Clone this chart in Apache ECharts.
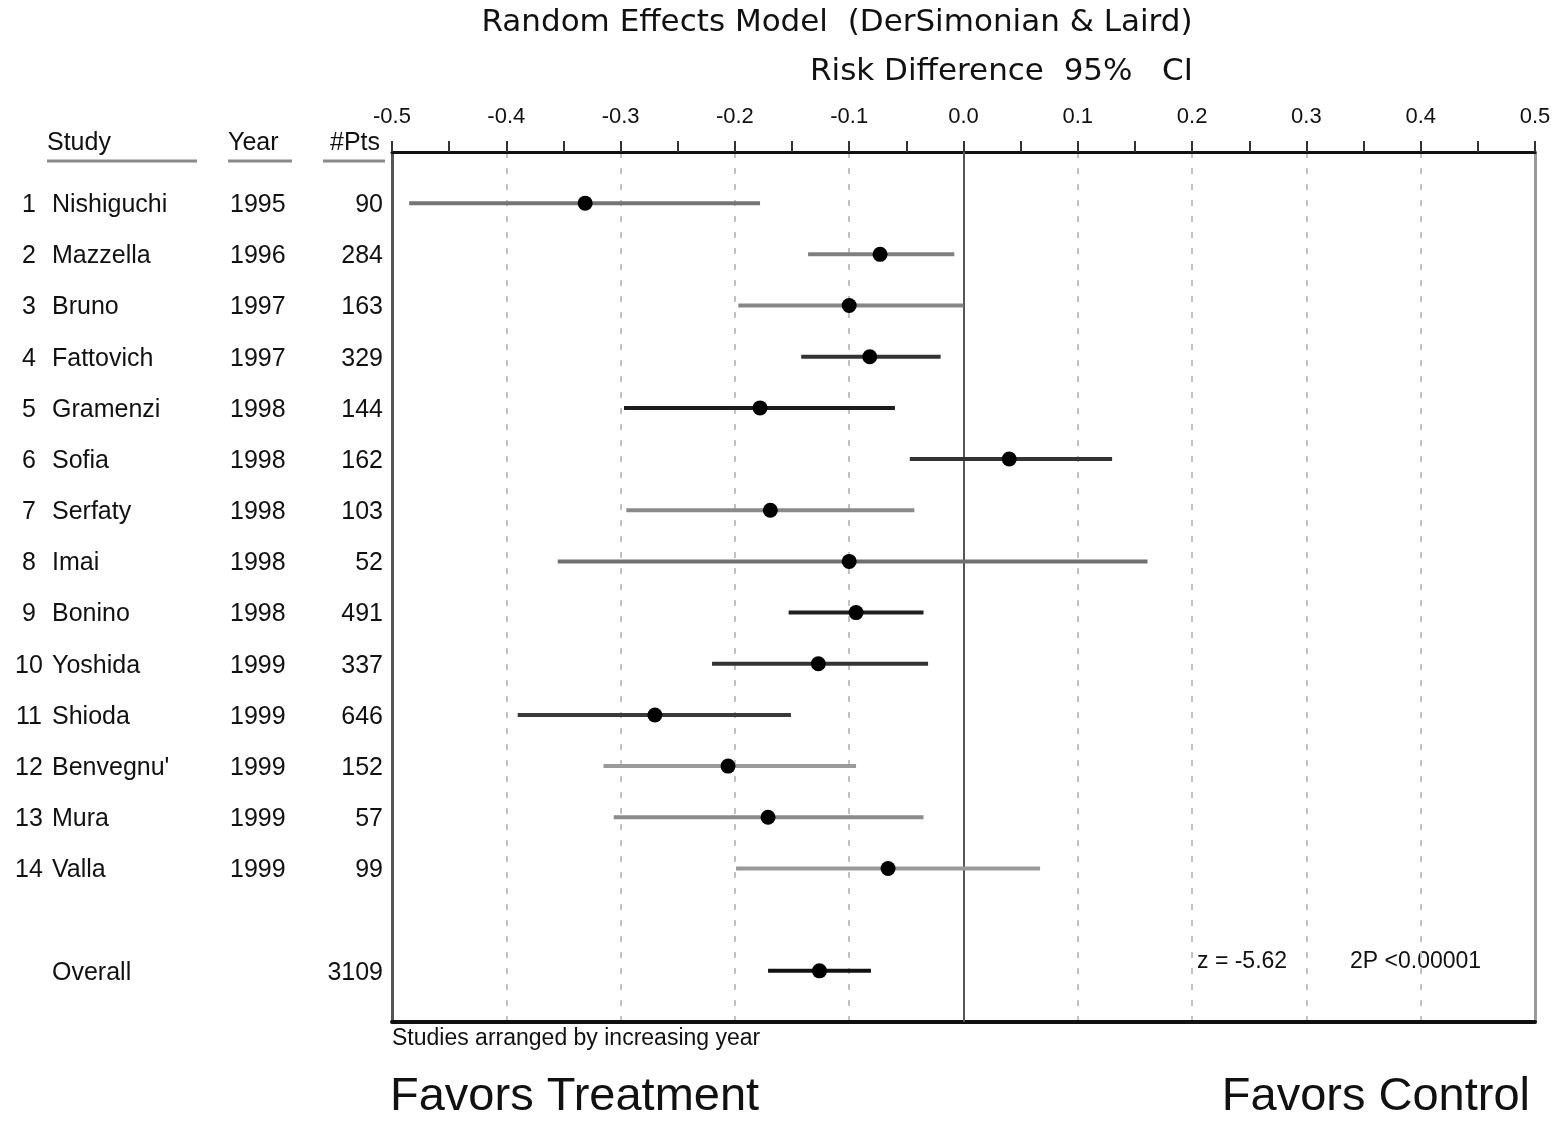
<!DOCTYPE html>
<html>
<head>
<meta charset="utf-8">
<script src="https://cdn.jsdelivr.net/npm/echarts@6/dist/echarts.min.js"></script>
<style>
  html, body { margin: 0; padding: 0; background: #ffffff; }
  #chart { width: 1557px; height: 1122px; }
</style>
</head>
<body>
<div id="chart"></div>
<script>
// Meta-analysis of individual studies: risk difference with 95% CI
const studies  = ['Nishiguchi', 'Mazzella', 'Bruno', 'Fattovich', 'Gramenzi', 'Sofia', 'Serfaty',
                  'Imai', 'Bonino', 'Yoshida', 'Shioda', "Benvegnu'", 'Mura', 'Valla'];
const years    = [1995, 1996, 1997, 1997, 1998, 1998, 1998, 1998, 1998, 1999, 1999, 1999, 1999, 1999];
const patients = [90, 284, 163, 329, 144, 162, 103, 52, 491, 337, 646, 152, 57, 99];
const riskDiff = [-0.331, -0.073, -0.100, -0.082, -0.178, 0.040, -0.169, -0.100, -0.094, -0.127, -0.270, -0.206, -0.171, -0.066];
const ciLow    = [-0.485, -0.136, -0.197, -0.142, -0.297, -0.047, -0.295, -0.355, -0.153, -0.220, -0.390, -0.315, -0.306, -0.199];
const ciHigh   = [-0.178, -0.008,  0.000, -0.020, -0.060,  0.130, -0.043,  0.161, -0.035, -0.031, -0.151, -0.094, -0.035,  0.067];

const overallLabel = 'Overall';
const overallPts   = 3109;
const overallRD    = -0.126;
const overallLow   = -0.171;
const overallHigh  = -0.081;

const xTickLabels = ['-0.5', '-0.4', '-0.3', '-0.2', '-0.1', '0.0', '0.1', '0.2', '0.3', '0.4', '0.5'];

// Row positions on the vertical (inverted) axis
const studyRows = studies.map((_, i) => i + 1);
const overallRow = 16;

// Stroke tones of the CI bars (as printed)
const ciShade = ['#757575', '#7f7f7f', '#868686', '#333333', '#1c1c1c', '#333333', '#8a8a8a',
                 '#707070', '#1f1f1f', '#333333', '#3a3a3a', '#9a9a9a', '#8c8c8c', '#999999', '#111111'];

const FONT = '"Liberation Sans", Arial, sans-serif';
const TITLE_FONT = '"DejaVu Sans", "Liberation Sans", sans-serif';

const ciData = studyRows.map((r, i) => [ciLow[i], ciHigh[i], r]);
ciData.push([overallLow, overallHigh, overallRow]);

const pointData = studyRows.map((r, i) => [riskDiff[i], r]);
pointData.push([overallRD, overallRow]);

const tableData = studyRows.map(r => [-0.5, r]);
tableData.push([-0.5, overallRow]);

const chart = echarts.init(document.getElementById('chart'), null, { renderer: 'canvas' });

function txt(x, y, text, size, align, font, weight) {
  return {
    type: 'text', x: x, y: y, silent: true,
    style: {
      text: text, fill: '#111', font: (weight || 'normal') + ' ' + size + 'px ' + (font || FONT),
      textAlign: align || 'left', textVerticalAlign: 'middle'
    }
  };
}

function hline(x1, x2, y, color, w) {
  return { type: 'line', silent: true, shape: { x1: x1, y1: y, x2: x2, y2: y },
           style: { stroke: color, lineWidth: w } };
}

const option = {
  backgroundColor: '#ffffff',
  animation: false,
  grid: { left: 392, right: 22, top: 152, bottom: 100, containLabel: false },
  xAxis: [
    {
      type: 'value', position: 'top', min: -0.5, max: 0.5, interval: 0.1,
      axisLine: { show: true, onZero: false, lineStyle: { color: '#111', width: 3 } },
      axisTick: { show: true, inside: false, length: 11, lineStyle: { color: '#333', width: 2 } },
      minorTick: { show: true, splitNumber: 2, length: 11, lineStyle: { color: '#333', width: 2 } },
      splitLine: { show: true, lineStyle: { color: '#c2c2c2', width: 2, type: [6, 10] } },
      axisLabel: {
        show: true, margin: 24, fontSize: 22, color: '#111', fontFamily: FONT,
        formatter: v => xTickLabels[Math.round((v + 0.5) * 10)]
      }
    },
    {
      type: 'value', position: 'bottom', min: -0.5, max: 0.5, interval: 0.1,
      axisLine: { show: true, onZero: false, lineStyle: { color: '#111', width: 4 } },
      axisTick: { show: false }, axisLabel: { show: false }, splitLine: { show: false }
    }
  ],
  yAxis: [
    {
      type: 'value', position: 'left', min: 0, max: 17, inverse: true,
      axisLine: { show: true, onZero: false, lineStyle: { color: '#555', width: 3 } },
      axisTick: { show: false }, axisLabel: { show: false }, splitLine: { show: false }
    },
    {
      type: 'value', position: 'right', min: 0, max: 17, inverse: true,
      axisLine: { show: true, onZero: false, lineStyle: { color: '#999', width: 3 } },
      axisTick: { show: false }, axisLabel: { show: false }, splitLine: { show: false }
    }
  ],
  series: [
    {
      // confidence interval bars
      type: 'custom', xAxisIndex: 0, yAxisIndex: 0, clip: false, z: 3,
      data: ciData,
      encode: { x: [0, 1], y: 2 },
      renderItem: function (params, api) {
        const a = api.coord([api.value(0), api.value(2)]);
        const b = api.coord([api.value(1), api.value(2)]);
        return {
          type: 'line',
          shape: { x1: a[0], y1: a[1], x2: b[0], y2: b[1] },
          style: { stroke: ciShade[params.dataIndex], lineWidth: 4 }
        };
      }
    },
    {
      // point estimates
      type: 'scatter', xAxisIndex: 0, yAxisIndex: 0, z: 4,
      symbol: 'circle', symbolSize: 15,
      itemStyle: { color: '#000', opacity: 1 },
      data: pointData,
      markLine: {
        silent: true, symbol: 'none', z: 2,
        label: { show: false },
        lineStyle: { color: '#555', width: 2, type: 'solid', opacity: 1 },
        data: [{ xAxis: 0 }]
      }
    },
    {
      // study table at the left
      type: 'custom', xAxisIndex: 0, yAxisIndex: 0, clip: false, z: 5,
      data: tableData,
      encode: { x: 0, y: 1 },
      renderItem: function (params, api) {
        const y = api.coord([api.value(0), api.value(1)])[1] + 2;
        const i = params.dataIndex;
        const children = [];
        if (i < studies.length) {
          children.push(txt(29, y, String(i + 1), 25, 'center'));
          children.push(txt(52, y, studies[i], 25, 'left'));
          children.push(txt(230, y, String(years[i]), 25, 'left'));
          children.push(txt(383, y, String(patients[i]), 25, 'right'));
        } else {
          children.push(txt(52, y, overallLabel, 25, 'left'));
          children.push(txt(383, y, String(overallPts), 25, 'right'));
        }
        return { type: 'group', children: children };
      }
    }
  ],
  graphic: [
    txt(837, 23, 'Random Effects Model  (DerSimonian & Laird)', 31, 'center', TITLE_FONT),
    txt(810, 72, 'Risk Difference  95%   CI', 31, 'left', TITLE_FONT),
    txt(47, 143, 'Study', 25, 'left'),
    txt(228, 143, 'Year', 25, 'left'),
    txt(380, 143, '#Pts', 25, 'right'),
    hline(47, 197, 161, '#8a8a8a', 3),
    hline(228, 292, 161, '#8a8a8a', 3),
    hline(323, 385, 161, '#8a8a8a', 3),
    txt(1197, 962, 'z = -5.62', 23, 'left'),
    txt(1350, 962, '2P <0.00001', 23, 'left'),
    txt(392, 1039, 'Studies arranged by increasing year', 23, 'left'),
    txt(390, 1097, 'Favors Treatment', 47, 'left'),
    txt(1530, 1097, 'Favors Control', 47, 'right')
  ]
};

chart.setOption(option);
</script>
</body>
</html>
